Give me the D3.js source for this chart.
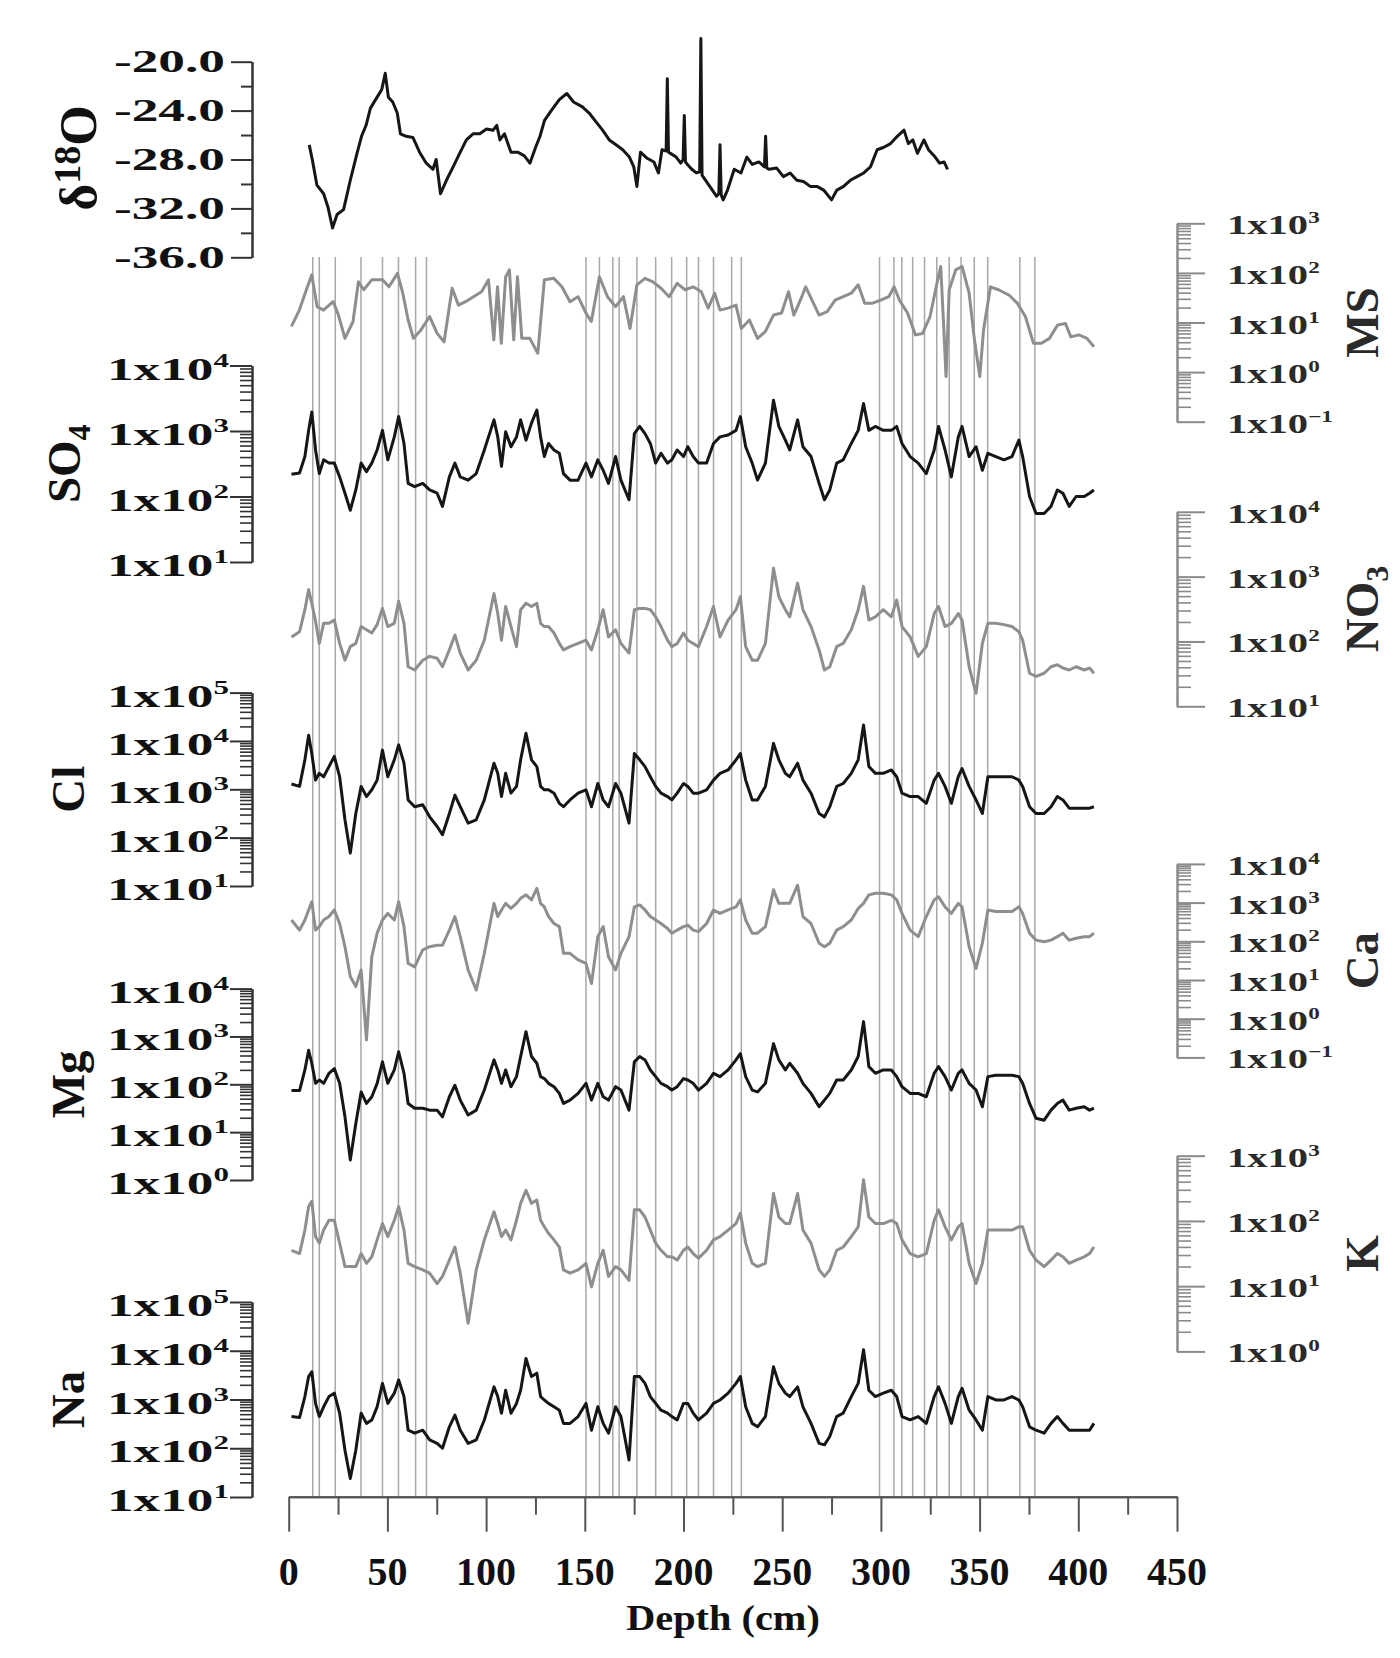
<!DOCTYPE html>
<html><head><meta charset="utf-8">
<script src="https://cdn.jsdelivr.net/npm/d3@7"></script>
<style>html,body{margin:0;background:#fff}</style>
</head><body>
<svg id="c" width="1400" height="1658" xmlns="http://www.w3.org/2000/svg"></svg>
<script>
// ---------------- DATA ----------------
const depthTicks = [0,50,100,150,200,250,300,350,400,450];
const depthMinorTicks = [25,75,125,175,225,275,325,375,425];
const d18oTicks = [-20,-24,-28,-32,-36];
const d18oMinorTicks = [-22,-26,-30,-34];

// vertical event markers (depth, cm)
const eventDepths = [12.2,15.5,23.6,36.6,47.5,55.6,64.3,69.8,
  150.6,157.4,164.2,167.4,176.4,185.9,194.0,201.6,207.6,215.2,224.4,229.3,
  299.3,306.6,310.6,316.1,322.1,328.3,334.6,340.6,347.3,354.1,370.4,378.0];

// delta 18O (permil) vs depth
const d18oDepth = [10.4,12.0,14.3,17.7,19.9,22.2,24.5,27.8,31.2,34.6,36.9,39.2,41.4,44.8,47.1,48.9,50.5,52.7,55.0,56.6,
  59.5,62.9,66.3,69.7,73.1,74.7,76.9,79.9,83.3,86.6,90.0,93.4,96.8,100.2,103.6,105.4,107.0,109.3,112.6,116.0,
  119.4,122.2,125.1,127.3,129.6,133.0,137.1,140.9,144.3,148.8,152.2,155.6,159.0,162.4,165.8,169.2,172.6,174.8,176.4,178.2,
  181.6,185.0,187.3,189.1,191.2,191.8,192.4,193.4,196.3,198.6,199.8,200.4,201.0,202.0,204.2,206.5,208.2,208.8,209.4,209.9,
  213.3,216.7,217.9,218.5,219.1,220.1,222.3,225.7,229.1,232.1,234.8,238.2,241.0,241.6,242.2,243.4,247.2,250.6,254.0,257.4,
  260.8,264.2,267.6,271.0,275.0,277.7,281.1,284.5,287.9,291.3,294.7,298.1,301.5,304.9,308.3,311.7,313.9,316.2,318.5,321.8,
  324.1,327.5,329.7,332.0,333.8];
const d18oValue = [-26.8,-28.05,-30.1,-30.8,-31.9,-33.6,-32.5,-32.1,-29.7,-27.5,-26.1,-25.2,-23.8,-22.9,-22.3,-20.95,-22.9,-23.3,-24.2,-25.9,
  -26.1,-26.2,-27.4,-28.3,-28.8,-28.0,-30.8,-29.7,-28.6,-27.5,-26.4,-25.9,-25.9,-25.5,-25.6,-25.2,-26.4,-25.9,-27.4,-27.4,
  -27.7,-28.3,-27.0,-26.1,-24.8,-24.0,-23.1,-22.6,-23.3,-23.7,-24.2,-24.9,-25.6,-26.4,-26.8,-27.2,-27.8,-28.6,-30.2,-27.4,
  -27.9,-28.2,-29.1,-27.2,-27.3,-21.4,-27.4,-27.5,-27.8,-28.3,-28.0,-24.4,-28.2,-28.4,-28.8,-29.1,-29.0,-18.1,-29.3,-29.4,
  -30.2,-31.0,-30.8,-26.8,-30.9,-31.3,-30.5,-28.8,-29.1,-27.8,-28.4,-28.2,-28.6,-26.1,-28.7,-28.8,-28.7,-29.4,-29.1,-29.7,
  -29.8,-30.2,-30.2,-30.5,-31.3,-30.5,-30.2,-29.7,-29.4,-29.1,-28.6,-27.2,-27.0,-26.7,-26.1,-25.6,-26.7,-26.4,-27.5,-26.4,
  -27.2,-27.8,-28.3,-28.2,-28.8];

// MS: depth and log10(concentration)
const msDepth = [1.4,5.4,9.5,11.7,14.4,17.6,22.5,25.2,28.5,32.6,35.3,38.0,42.1,47.5,50.8,55.1,57.8,60.5,63.2,67.0,
  71.4,75.2,78.7,82.8,86.0,89.6,93.6,97.7,101.2,103.9,105.8,107.7,109.9,111.8,114.0,115.9,118.1,122.1,126.2,129.5,
  134.3,138.4,142.5,146.6,150.6,153.3,157.4,161.5,165.6,169.6,172.9,176.4,180.5,184.5,188.6,192.7,196.8,200.8,204.9,209.0,
  212.5,215.8,218.5,222.5,226.6,229.3,233.4,237.5,241.5,245.6,249.7,253.2,255.9,259.2,261.9,264.6,268.7,272.8,276.8,280.9,
  285.0,288.5,291.8,295.8,299.9,304.0,306.7,309.4,313.5,317.5,321.1,324.9,328.4,330.3,331.9,333.0,334.6,337.9,341.1,344.7,
  347.4,350.1,352.0,355.5,359.6,365.0,369.1,373.2,377.3,381.3,385.4,389.5,393.5,396.2,400.3,404.4,407.9];
const msLog = [0.92,1.25,1.72,1.96,1.32,1.25,1.42,1.15,0.68,1.02,1.82,1.66,1.86,1.86,1.72,1.99,1.59,1.05,0.68,0.85,
  1.12,0.78,0.61,1.69,1.35,1.42,1.52,1.62,1.86,0.65,1.72,0.58,1.92,2.06,0.65,1.92,0.68,0.68,0.38,1.86,
  1.89,1.72,1.42,1.52,1.19,1.02,1.92,1.52,1.32,1.52,0.88,1.76,1.89,1.82,1.69,1.52,1.79,1.66,1.72,1.62,
  1.29,1.59,1.25,1.29,1.35,0.88,1.05,0.68,0.82,1.15,1.19,1.62,1.15,1.45,1.72,1.49,1.15,1.22,1.45,1.52,
  1.59,1.76,1.39,1.39,1.45,1.52,1.72,1.45,1.19,0.75,0.78,1.12,1.79,2.13,0.85,-0.09,1.66,2.06,2.13,1.59,
  0.65,-0.09,0.85,1.72,1.66,1.55,1.39,1.12,0.58,0.58,0.68,0.95,0.98,0.71,0.75,0.68,0.51];

// ion sample depths (cm), shared by all ion series
const ionDepth = [1.4,5.5,8.2,10.1,11.7,13.6,15.5,17.7,20.4,23.1,
  25.8,28.5,31.2,34.0,36.7,39.4,42.1,44.8,47.5,50.2,
  53.5,55.7,58.4,60.5,63.8,67.9,71.4,75.2,77.9,81.4,
  84.2,86.9,90.9,95.0,99.1,104.0,105.9,107.8,109.9,112.6,
  115.4,117.5,120.2,123.0,125.7,127.6,129.5,131.6,134.4,137.1,
  139.2,142.5,146.6,150.6,153.4,156.6,159.3,162.0,165.6,168.3,
  172.4,175.1,177.8,180.5,183.2,185.9,188.6,191.9,194.1,196.8,
  200.0,202.2,204.9,207.6,211.7,215.2,218.5,222.6,226.6,228.8,
  231.5,234.8,237.5,241.5,245.6,248.3,251.6,253.8,257.8,260.5,
  264.6,268.7,271.4,274.1,277.6,280.9,285.0,288.5,291.2,293.9,
  297.2,301.2,305.3,308.0,310.7,314.8,318.9,323.0,327.0,329.2,
  332.5,335.7,339.2,341.1,344.7,348.2,351.4,354.2,358.2,362.3,
  366.4,369.9,371.8,375.3,378.6,382.7,386.2,389.4,392.2,395.4,
  398.9,403.0,405.7,407.9];

// log10 concentrations
const so4Log = [2.34,2.36,2.61,3.01,3.29,2.71,2.35,2.56,2.51,2.51,
  2.30,2.05,1.79,2.10,2.51,2.38,2.51,2.71,3.01,2.56,
  2.91,3.22,2.81,2.20,2.15,2.20,2.10,2.05,1.85,2.30,
  2.51,2.30,2.25,2.35,2.71,3.17,2.91,2.46,2.99,2.76,
  2.91,3.17,2.86,3.12,3.32,2.91,2.61,2.81,2.71,2.66,
  2.35,2.25,2.25,2.51,2.30,2.56,2.40,2.20,2.61,2.25,
  1.95,2.96,3.07,2.96,2.81,2.51,2.66,2.51,2.56,2.71,
  2.61,2.76,2.61,2.51,2.51,2.81,2.91,2.94,3.01,3.22,
  2.76,2.51,2.25,2.51,3.47,3.07,2.86,2.71,3.17,2.76,
  2.61,2.20,1.95,2.10,2.51,2.56,2.81,3.01,3.42,3.01,
  3.07,3.01,3.01,3.07,2.81,2.61,2.51,2.35,2.71,3.07,
  2.71,2.30,2.91,3.07,2.61,2.76,2.40,2.66,2.61,2.56,
  2.61,2.86,2.61,2.00,1.74,1.74,1.85,2.10,2.05,1.85,
  2.00,2.00,2.05,2.10];
const no3Log = [2.07,2.15,2.49,2.80,2.59,2.31,1.97,2.28,2.28,2.33,
  1.97,1.71,1.92,1.97,2.23,2.18,2.13,2.26,2.51,2.23,
  2.28,2.62,2.28,1.61,1.56,1.71,1.77,1.74,1.61,1.87,
  2.10,1.82,1.56,1.71,2.02,2.74,2.43,2.02,2.54,2.23,
  1.92,2.49,2.59,2.54,2.59,2.28,2.23,2.23,2.13,1.97,
  1.87,1.92,1.97,2.02,1.87,2.18,2.49,2.07,2.18,1.97,
  1.82,2.49,2.51,2.51,2.49,2.38,2.23,2.02,1.92,1.97,
  2.13,2.02,1.97,1.92,2.23,2.54,2.07,2.33,2.49,2.69,
  1.92,1.71,1.71,1.97,3.13,2.69,2.49,2.38,2.90,2.49,
  2.23,1.87,1.56,1.61,1.92,1.97,2.18,2.49,2.85,2.33,
  2.38,2.49,2.38,2.64,2.23,2.07,1.77,1.92,2.43,2.54,
  2.23,2.28,2.43,2.33,1.61,1.20,1.97,2.28,2.28,2.26,
  2.23,2.15,2.02,1.51,1.46,1.51,1.61,1.64,1.59,1.56,
  1.61,1.56,1.59,1.51];
const clLog = [3.11,3.06,3.61,4.12,3.74,3.19,3.33,3.26,3.47,3.68,
  3.26,2.37,1.68,2.50,3.06,2.85,2.99,3.19,3.81,3.26,
  3.61,3.92,3.54,2.78,2.64,2.68,2.43,2.23,2.06,2.50,
  2.88,2.64,2.30,2.37,2.78,3.54,3.33,2.85,3.33,2.92,
  3.06,3.61,4.16,3.61,3.47,3.06,2.99,2.99,2.92,2.71,
  2.64,2.78,2.92,2.99,2.64,3.12,2.78,2.64,3.12,2.92,
  2.30,3.74,3.61,3.47,3.26,3.06,2.92,2.85,2.78,2.92,
  3.12,3.06,2.92,2.92,2.99,3.19,3.33,3.40,3.61,3.74,
  3.19,2.78,2.78,3.06,3.95,3.61,3.33,3.26,3.54,3.19,
  2.92,2.50,2.43,2.64,3.06,3.12,3.33,3.61,4.33,3.47,
  3.33,3.33,3.40,3.26,2.92,2.85,2.85,2.71,3.19,3.33,
  3.06,2.71,3.26,3.43,3.06,2.78,2.50,3.26,3.26,3.26,
  3.26,3.19,3.06,2.64,2.50,2.50,2.64,2.85,2.78,2.61,
  2.61,2.61,2.61,2.64];
const caLog = [2.55,2.29,2.55,2.81,3.02,2.29,2.38,2.55,2.64,2.81,
  2.46,1.86,1.09,0.83,1.26,-0.55,1.60,2.21,2.55,2.72,
  2.55,3.02,2.38,1.43,1.34,1.78,1.86,1.90,1.90,2.29,
  2.64,2.12,1.26,0.74,1.69,2.98,2.64,2.81,2.98,2.85,
  2.98,3.11,3.20,3.07,3.37,2.98,2.89,2.64,2.46,2.38,
  1.69,1.69,1.52,1.43,0.91,2.12,2.38,1.60,1.26,1.69,
  2.12,2.89,2.94,2.81,2.64,2.55,2.46,2.33,2.21,2.29,
  2.38,2.42,2.29,2.25,2.46,2.81,2.72,2.81,2.89,3.07,
  2.55,2.21,2.21,2.38,3.33,2.98,2.98,2.98,3.45,2.64,
  2.46,1.95,1.86,1.95,2.29,2.38,2.55,2.85,2.98,3.20,
  3.24,3.24,3.20,3.07,2.72,2.29,2.12,2.64,3.07,3.15,
  2.89,2.72,2.98,2.89,1.86,1.30,1.95,2.81,2.77,2.77,
  2.77,2.89,2.72,2.21,2.03,1.99,2.03,2.12,2.21,2.03,
  2.08,2.12,2.12,2.21];
const mgLog = [1.87,1.87,2.30,2.71,2.44,2.02,2.09,2.02,2.23,2.33,
  2.02,1.32,0.42,1.18,1.84,1.60,1.74,2.02,2.47,2.02,
  2.30,2.68,2.23,1.60,1.50,1.50,1.46,1.46,1.32,1.74,
  1.98,1.67,1.36,1.46,1.88,2.51,2.30,2.02,2.30,1.95,
  2.16,2.58,3.10,2.58,2.44,2.16,2.12,2.02,1.95,1.81,
  1.60,1.67,1.81,2.02,1.67,2.02,1.74,1.67,1.95,1.88,
  1.46,2.47,2.58,2.51,2.30,2.16,2.02,1.95,1.88,1.95,
  2.12,2.09,2.02,1.88,2.02,2.23,2.16,2.30,2.51,2.64,
  2.16,1.88,1.84,2.02,2.85,2.51,2.30,2.44,2.23,2.02,
  1.81,1.53,1.67,1.81,2.09,2.09,2.30,2.58,3.31,2.37,
  2.23,2.30,2.30,2.16,1.95,1.81,1.81,1.74,2.23,2.37,
  2.16,1.88,2.23,2.30,2.02,1.88,1.53,2.16,2.19,2.19,
  2.19,2.16,2.02,1.60,1.29,1.25,1.46,1.60,1.67,1.46,
  1.50,1.53,1.46,1.50];
const kLog = [1.55,1.50,1.86,2.22,2.30,1.76,1.66,1.86,2.01,2.01,
  1.66,1.30,1.30,1.30,1.50,1.35,1.45,1.71,1.96,1.76,
  2.01,2.22,1.86,1.35,1.30,1.25,1.20,1.04,1.15,1.40,
  1.60,1.20,0.43,1.25,1.71,2.14,1.96,1.76,1.86,1.71,
  2.01,2.27,2.47,2.27,2.32,2.01,1.91,1.81,1.71,1.60,
  1.25,1.20,1.25,1.35,0.99,1.35,1.55,1.15,1.30,1.25,
  1.09,2.17,2.17,2.06,1.86,1.66,1.55,1.45,1.45,1.40,
  1.55,1.60,1.50,1.43,1.55,1.71,1.76,1.86,1.96,2.12,
  1.66,1.35,1.30,1.35,2.42,2.06,1.96,1.96,2.42,1.86,
  1.66,1.25,1.15,1.25,1.55,1.60,1.76,1.91,2.63,2.06,
  1.96,1.96,2.01,1.96,1.71,1.50,1.45,1.50,2.01,2.17,
  1.91,1.71,1.91,1.96,1.35,1.04,1.35,1.86,1.86,1.86,
  1.86,1.91,1.91,1.55,1.40,1.30,1.40,1.50,1.45,1.35,
  1.40,1.45,1.50,1.60];
const naLog = [2.65,2.63,3.06,3.47,3.57,2.92,2.65,2.85,3.06,3.13,
  2.72,1.96,1.38,1.96,2.72,2.51,2.58,2.85,3.33,2.92,
  3.13,3.40,3.06,2.37,2.31,2.37,2.17,2.10,2.00,2.44,
  2.68,2.37,2.10,2.17,2.58,3.26,3.06,2.72,3.19,2.72,
  2.92,3.19,3.84,3.47,3.54,3.06,2.99,2.92,2.85,2.78,
  2.51,2.51,2.65,2.92,2.37,2.85,2.51,2.31,2.85,2.65,
  1.76,3.47,3.47,3.33,3.06,2.92,2.78,2.72,2.65,2.58,
  2.92,2.92,2.72,2.58,2.72,2.92,2.99,3.13,3.33,3.47,
  2.85,2.51,2.44,2.65,3.67,3.33,3.13,3.06,3.26,2.85,
  2.51,2.10,2.07,2.24,2.65,2.72,3.06,3.33,4.02,3.19,
  3.06,3.13,3.19,3.06,2.65,2.58,2.65,2.51,3.06,3.26,
  2.92,2.51,3.06,3.23,2.78,2.58,2.37,3.06,2.99,2.99,
  3.06,2.99,2.85,2.44,2.37,2.31,2.51,2.65,2.51,2.37,
  2.37,2.37,2.37,2.51];

// ---------------- LAYOUT ----------------
const svg = d3.select('#c');
const FONT = "'Liberation Serif','Times New Roman',serif";
const BLACK = '#161616', GRAY = '#8e8e8e';
const LEFT_X = 252, RIGHT_X = 1177, XAXIS_Y = 1496.7;
const x = d3.scaleLinear().domain([0, 450]).range([288.7, 1177]);

const panels = [
  {name:'MS',  sub:'',  side:'right', dom:[0.1,1e3], range:[421.7,223.3], depth:msDepth, vals:msLog, color:GRAY},
  {name:'SO',  sub:'4', side:'left',  dom:[10,1e4],  range:[562,365.5],   depth:ionDepth, vals:so4Log, color:BLACK},
  {name:'NO',  sub:'3', side:'right', dom:[10,1e4],  range:[706.3,511.8], depth:ionDepth, vals:no3Log, color:GRAY},
  {name:'Cl',  sub:'',  side:'left',  dom:[10,1e5],  range:[886,692.6],   depth:ionDepth, vals:clLog, color:BLACK},
  {name:'Ca',  sub:'',  side:'right', dom:[0.1,1e4], range:[1057.4,863.9],depth:ionDepth, vals:caLog, color:GRAY},
  {name:'Mg',  sub:'',  side:'left',  dom:[1,1e4],   range:[1180,988.6],  depth:ionDepth, vals:mgLog, color:BLACK},
  {name:'K',   sub:'',  side:'right', dom:[1,1e3],   range:[1351.4,1155.7],depth:ionDepth, vals:kLog, color:GRAY},
  {name:'Na',  sub:'',  side:'left',  dom:[10,1e5],  range:[1497,1302],   depth:ionDepth, vals:naLog, color:BLACK}
];

// event lines
svg.append('g').selectAll('line').data(eventDepths).join('line')
  .attr('x1', d => x(d)).attr('x2', d => x(d))
  .attr('y1', 257).attr('y2', XAXIS_Y)
  .attr('stroke', '#a8a8a8').attr('stroke-width', 1.5);

function styleAxis(g, color) {
  g.selectAll('path,line').attr('stroke', color).attr('stroke-width', 2);
  g.selectAll('text').remove();
}

// ---- delta18O panel ----
const yO = d3.scaleLinear().domain([-36, -20]).range([257.3, 61.7]);
{
  const gMin = svg.append('g').attr('transform', `translate(${LEFT_X},0)`)
    .call(d3.axisLeft(yO).tickValues(d18oMinorTicks).tickSize(11).tickSizeOuter(0).tickFormat(''));
  styleAxis(gMin, '#333');
  const gMaj = svg.append('g').attr('transform', `translate(${LEFT_X},0)`)
    .call(d3.axisLeft(yO).tickValues(d18oTicks).tickSize(21).tickSizeOuter(0).tickFormat(''));
  styleAxis(gMaj, '#333');
  d18oTicks.forEach(v => {
    svg.append('text')
      .attr('transform', `translate(225,${yO(v) + 10.5}) scale(1.72,1)`)
      .attr('text-anchor', 'end').attr('font-family', FONT).attr('font-weight', 'bold')
      .attr('font-size', 31).attr('fill', '#111')
      .text(d3.format('.1f')(v).replace('\u2212', '-'));
  });
  const lbl = svg.append('text')
    .attr('transform', 'translate(96,158) rotate(-90)')
    .attr('text-anchor', 'middle').attr('font-family', FONT).attr('font-weight', 'bold')
    .attr('font-size', 52).attr('fill', '#111');
  lbl.append('tspan').text('δ');
  lbl.append('tspan').attr('font-size', 38).attr('dy', -16).text('18');
  lbl.append('tspan').attr('dy', 16).text('O');
  const pts = d3.zip(d18oDepth, d18oValue);
  svg.append('path').datum(pts)
    .attr('d', d3.line().x(d => x(d[0])).y(d => yO(d[1])))
    .attr('fill', 'none').attr('stroke', BLACK).attr('stroke-width', 3)
    .attr('stroke-linejoin', 'round');
}

// ---- log panels ----
panels.forEach(p => {
  const y = d3.scaleLog().domain(p.dom).range(p.range);
  const e0 = Math.round(Math.log10(p.dom[0])), e1 = Math.round(Math.log10(p.dom[1]));
  const exps = d3.range(e0, e1 + 1);
  const majors = exps.map(e => Math.pow(10, e));
  const minors = [];
  for (let e = e0; e < e1; e++) for (let m = 2; m <= 9; m++) minors.push(m * Math.pow(10, e));
  const left = p.side === 'left';
  const axisFn = left ? d3.axisLeft : d3.axisRight;
  const ax = left ? LEFT_X : RIGHT_X;
  const col = left ? '#333' : '#8a8a8a';
  const gMin = svg.append('g').attr('transform', `translate(${ax},0)`)
    .call(axisFn(y).tickValues(minors).tickSize(left ? 12 : 14).tickSizeOuter(0).tickFormat(''));
  styleAxis(gMin, col);
  gMin.selectAll('line').attr('stroke-width', 1.6);
  const gMaj = svg.append('g').attr('transform', `translate(${ax},0)`)
    .call(axisFn(y).tickValues(majors).tickSize(left ? 22 : 28).tickSizeOuter(0).tickFormat(''));
  styleAxis(gMaj, col);

  exps.forEach(e => {
    const ty = y(Math.pow(10, e));
    const t = svg.append('text')
      .attr('font-family', FONT).attr('font-weight', 'bold')
      .attr('fill', left ? '#111' : '#2a2a2a');
    const es = String(e).replace('-', '\u2212');
    if (left) {
      t.attr('transform', `translate(229,${ty + 14}) scale(1.72,1)`).attr('text-anchor', 'end').attr('font-size', 31);
      t.append('tspan').text('1x10');
      t.append('tspan').attr('font-size', 18).attr('dy', -13).text(es);
    } else {
      t.attr('transform', `translate(1227,${ty + 11}) scale(1.45,1)`).attr('text-anchor', 'start').attr('font-size', 28);
      t.append('tspan').text('1x10');
      t.append('tspan').attr('font-size', 16).attr('dy', -11).text(es);
    }
  });

  const cy = (p.range[0] + p.range[1]) / 2;
  const cx = left ? (p.sub ? 80 : 84) : 1378;
  const lbl = svg.append('text')
    .attr('transform', `translate(${cx},${cy}) rotate(-90)`)
    .attr('text-anchor', 'middle').attr('font-family', FONT).attr('font-weight', 'bold')
    .attr('font-size', 47).attr('fill', left ? '#111' : '#2a2a2a');
  lbl.append('tspan').text(p.name);
  if (p.sub) lbl.append('tspan').attr('font-size', 32).attr('dy', 10).text(p.sub);

  const n = Math.min(p.depth.length, p.vals.length);
  const pts = d3.range(n).map(i => [p.depth[i], Math.pow(10, p.vals[i])]);
  svg.append('path').datum(pts)
    .attr('d', d3.line().x(d => x(d[0])).y(d => y(d[1])))
    .attr('fill', 'none').attr('stroke', p.color).attr('stroke-width', 3)
    .attr('stroke-linejoin', 'round');
});

// ---- x axis ----
{
  const gMin = svg.append('g').attr('transform', `translate(0,${XAXIS_Y})`)
    .call(d3.axisBottom(x).tickValues(depthMinorTicks).tickSize(18).tickSizeOuter(0).tickFormat(''));
  styleAxis(gMin, '#555');
  const gMaj = svg.append('g').attr('transform', `translate(0,${XAXIS_Y})`)
    .call(d3.axisBottom(x).tickValues(depthTicks).tickSize(35).tickSizeOuter(0).tickFormat(''));
  styleAxis(gMaj, '#555');
  svg.append('g').selectAll('text').data(depthTicks).join('text')
    .attr('x', d => x(d)).attr('y', 1585)
    .attr('text-anchor', 'middle').attr('font-family', FONT).attr('font-weight', 'bold')
    .attr('font-size', 40).attr('fill', '#111').text(d => d);
  svg.append('text')
    .attr('transform', 'translate(723,1630) scale(1.12,1)')
    .attr('text-anchor', 'middle').attr('font-family', FONT).attr('font-weight', 'bold')
    .attr('font-size', 36).attr('fill', '#111').text('Depth (cm)');
}
</script>
</body></html>
